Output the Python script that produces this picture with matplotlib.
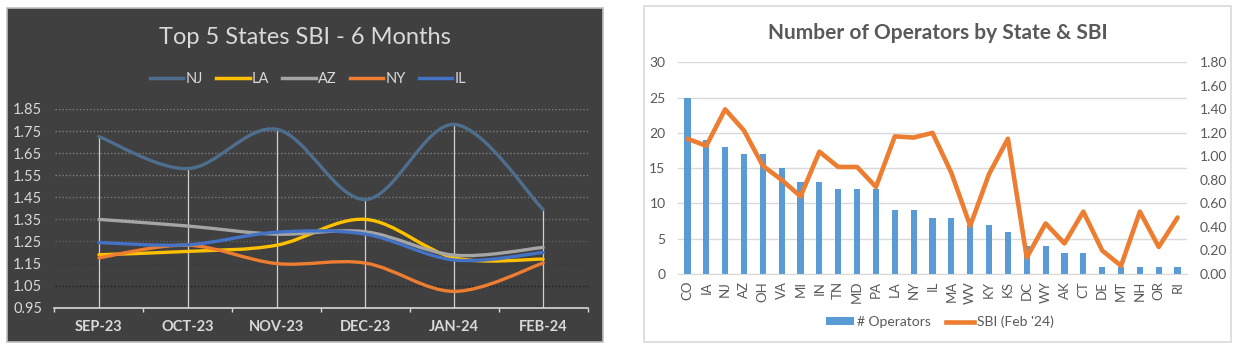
import numpy as np
import matplotlib
matplotlib.use("Agg")
import matplotlib.pyplot as plt
from matplotlib.path import Path
from matplotlib.patches import PathPatch, Rectangle, Patch
from matplotlib.lines import Line2D

plt.rcParams['font.family'] = ['Lato', 'DejaVu Sans']

# left chart: SBI over the last 6 months
months = ['SEP-23', 'OCT-23', 'NOV-23', 'DEC-23', 'JAN-24', 'FEB-24']
nj = [1.725, 1.58, 1.758, 1.44, 1.78, 1.395]
la = [1.19, 1.205, 1.233, 1.35, 1.176, 1.17]
az = [1.35, 1.32, 1.283, 1.294, 1.188, 1.223]
ny = [1.176, 1.233, 1.15, 1.152, 1.024, 1.152]
il = [1.245, 1.235, 1.292, 1.283, 1.166, 1.20]
series_names = ['NJ', 'LA', 'AZ', 'NY', 'IL']
series_colors = ['#4E6E8E', '#FFC000', '#A5A5A5', '#ED7D31', '#4472C4']

# right chart: operators by state and Feb '24 SBI
states = ['CO', 'IA', 'NJ', 'AZ', 'OH', 'VA', 'MI', 'IN', 'TN', 'MD', 'PA', 'LA', 'NY', 'IL',
          'MA', 'WV', 'KY', 'KS', 'DC', 'WY', 'AK', 'CT', 'DE', 'MT', 'NH', 'OR', 'RI']
operators = [25, 19, 18, 17, 17, 15, 13, 13, 12, 12, 12, 9, 9, 8,
             8, 7, 7, 6, 4, 4, 3, 3, 1, 1, 1, 1, 1]
sbi_feb = [1.15, 1.09, 1.40, 1.22, 0.92, 0.80, 0.66, 1.04, 0.91, 0.91, 0.74, 1.17, 1.16, 1.20,
           0.86, 0.41, 0.85, 1.15, 0.14, 0.43, 0.26, 0.53, 0.20, 0.07, 0.53, 0.23, 0.48]

W, H = 1237, 348


def smooth_path(xs, ys):
    # bezier curve through the points, like excel's smoothed line
    pts = np.column_stack([xs, ys]).astype(float)
    n = len(pts)
    verts = [pts[0]]
    codes = [Path.MOVETO]
    for i in range(n - 1):
        p0 = pts[max(i - 1, 0)]
        p1 = pts[i]
        p2 = pts[i + 1]
        p3 = pts[min(i + 2, n - 1)]
        verts += [p1 + (p2 - p0) / 6, p2 - (p3 - p1) / 6, p2]
        codes += [Path.CURVE4] * 3
    return Path(verts, codes)


def fig_rect(x0, y0, x1, y1):
    # pixel box (top-left origin) -> figure fraction
    return [x0 / W, 1 - y1 / H, (x1 - x0) / W, (y1 - y0) / H]


fig = plt.figure(figsize=(W / 100, H / 100), dpi=100)
fig.patch.set_facecolor('white')

# panel backgrounds
r = fig_rect(7, 8, 603, 342)
fig.patches.append(Rectangle((r[0], r[1]), r[2], r[3], transform=fig.transFigure,
                             facecolor='#404040', edgecolor='#bfbfbf', lw=1.2, zorder=-10))
r = fig_rect(644, 6, 1231, 342)
fig.patches.append(Rectangle((r[0], r[1]), r[2], r[3], transform=fig.transFigure,
                             facecolor='white', edgecolor='#d9d9d9', lw=1.2, zorder=-10))

# ---------------- left chart ----------------
ax = fig.add_axes(fig_rect(54.5, 109, 587.5, 307.7))
ax.patch.set_visible(False)
x = np.arange(len(months))
ax.set_xlim(-0.5, len(months) - 0.5)
ax.set_ylim(0.95, 1.85)

yt = np.round(np.arange(0.95, 1.851, 0.1), 2)
grid_cols = ['#1e1e1e', '#1e1e1e', '#3a3a3a', '#5e5e5e', '#6e6e6e',
             '#7a7a7a', '#808080', '#808080', '#808080', '#808080']
for yv, gc in zip(yt[1:], grid_cols[1:]):
    ax.axhline(yv, color=gc, lw=1.0, ls=(0, (1, 1.5)), zorder=0)

all_series = [nj, la, az, ny, il]
tops = np.max(np.array(all_series), axis=0)
ax.vlines(x, 0.95, tops, color='#d0d0d0', lw=0.9, zorder=1)

for vals, c in zip(all_series, series_colors):
    ax.add_patch(PathPatch(smooth_path(x, vals), facecolor='none', edgecolor=c,
                           lw=2.4, capstyle='round', zorder=3))

ax.set_yticks(yt)
ax.set_yticklabels([f'{v:.2f}' for v in yt])
ax.set_xticks(x)
ax.set_xticklabels(months, fontweight='bold')
ax.set_xticks(np.arange(-0.5, len(months)), minor=True)
ax.tick_params(axis='y', length=0, pad=9, labelsize=10.5, labelcolor='#d9d9d9')
ax.tick_params(axis='x', which='major', length=0, pad=9, labelsize=10.5, labelcolor='#d9d9d9')
ax.tick_params(axis='x', which='minor', length=3, width=1, color='#d9d9d9', direction='out')
for s in ['top', 'right', 'left']:
    ax.spines[s].set_visible(False)
ax.spines['bottom'].set_color('#d9d9d9')
ax.spines['bottom'].set_linewidth(1.2)

fig.text(305 / W, 1 - 38 / H, 'Top 5 States SBI - 6 Months', ha='center', va='center',
         color='#d9d9d9', fontsize=17)
handles = [Line2D([], [], color=c, lw=2.5) for c in series_colors]
leg = fig.legend(handles, series_names, loc='center', bbox_to_anchor=(308 / W, 1 - 79 / H),
                 ncol=5, frameon=False, fontsize=10.5, handlelength=2.3,
                 handletextpad=0.15, columnspacing=0.9)
for t in leg.get_texts():
    t.set_color('#d9d9d9')

# ---------------- right chart ----------------
ax2 = fig.add_axes(fig_rect(678, 62.3, 1187, 274))
ax2.patch.set_visible(False)
xs = np.arange(len(states))
ax2.bar(xs, operators, width=0.33, color='#5B9BD5', zorder=2)
ax2.set_xlim(-0.5, len(states) - 0.5)
ax2.set_ylim(0, 30)
ax2.set_yticks(range(0, 31, 5))
ax2.yaxis.grid(True, color='#d9d9d9', lw=1)
ax2.set_axisbelow(True)
ax2.set_xticks(xs)
ax2.set_xticklabels(states, rotation=90)
ax2.tick_params(axis='y', length=0, pad=9, labelsize=10, labelcolor='#595959')
ax2.tick_params(axis='x', length=0, pad=5, labelsize=9.5, labelcolor='#595959')
for s in ['top', 'right', 'left']:
    ax2.spines[s].set_visible(False)
ax2.spines['bottom'].set_color('#d9d9d9')

ax3 = ax2.twinx()
ax3.plot(xs, sbi_feb, color='#ED7D31', lw=3.3, solid_joinstyle='round',
         solid_capstyle='round', zorder=3)
ax3.set_ylim(0, 1.8)
yt3 = np.round(np.arange(0, 1.81, 0.2), 2)
ax3.set_yticks(yt3)
ax3.set_yticklabels([f'{v:.2f}' for v in yt3])
ax3.tick_params(axis='y', length=0, pad=9, labelsize=10, labelcolor='#595959')
for s in ['top', 'right', 'left', 'bottom']:
    ax3.spines[s].set_visible(False)

fig.text(938 / W, 1 - 33 / H, 'Number of Operators by State & SBI', ha='center', va='center',
         color='#595959', fontsize=15, fontweight='bold')
h2 = [Patch(facecolor='#5B9BD5'), Line2D([], [], color='#ED7D31', lw=3.3)]
leg2 = fig.legend(h2, ['# Operators', "SBI (Feb '24)"], loc='center',
                  bbox_to_anchor=(940 / W, 1 - 322 / H), ncol=2, frameon=False,
                  fontsize=10, handlelength=2.0, handleheight=0.5, handletextpad=0.2,
                  columnspacing=1.1)
for t in leg2.get_texts():
    t.set_color('#595959')

fig.savefig('out.png', dpi=100)
